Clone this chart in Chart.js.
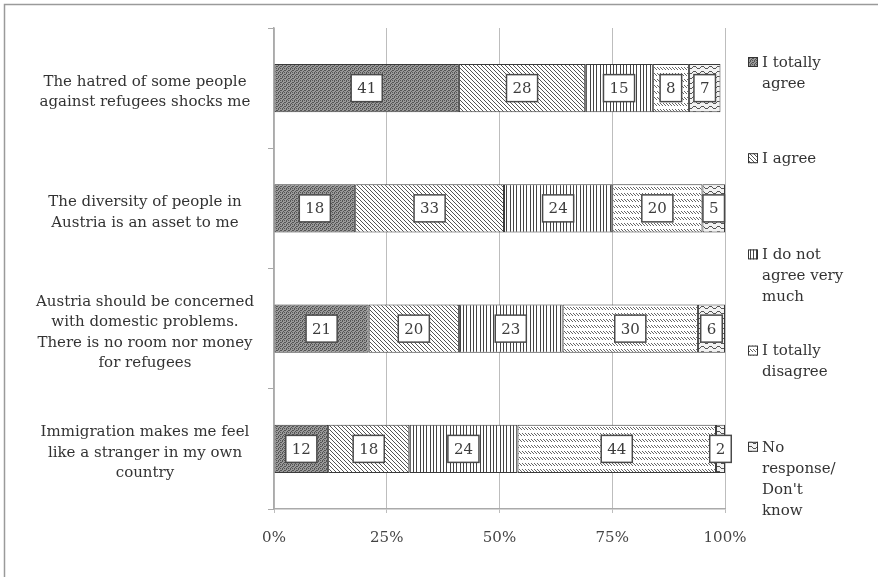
<!DOCTYPE html>
<html>
<head>
<meta charset="utf-8">
<script src="https://cdn.jsdelivr.net/npm/chart.js@4"></script>
<style>
  html, body { margin: 0; padding: 0; background: #fff; }
  #wrap { width: 878px; height: 577px; position: relative; }
</style>
</head>
<body>
<div id="wrap"><canvas id="myChart" width="878" height="577"></canvas></div>
<script>
// statements (y categories), each split in lines like the original
const statements = [
    ["The hatred of some people", "against refugees shocks me"],
    ["The diversity of people in", "Austria is an asset to me"],
    ["Austria should be concerned", "with domestic problems.", "There is no room nor money", "for refugees"],
    ["Immigration makes me feel", "like a stranger in my own", "country"]
];
const seriesNames = ["I totally agree", "I agree", "I do not agree very much", "I totally disagree", "No response/ Don't know"];
const legendLines = [
    ["I totally", "agree"],
    ["I agree"],
    ["I do not", "agree very", "much"],
    ["I totally", "disagree"],
    ["No", "response/", "Don't", "know"]
];
const totallyAgree = [41, 18, 21, 12];
const agree = [28, 33, 20, 18];
const notVeryMuch = [15, 24, 23, 24];
const totallyDisagree = [8, 20, 30, 44];
const noResponse = [7, 5, 6, 2];
const xTicks = [0, 25, 50, 75, 100];

const FONT = "'DejaVu Serif', serif";

function makePattern(draw, w, h) {
    const c = document.createElement('canvas');
    c.width = w; c.height = h;
    const g = c.getContext('2d');
    draw(g, w, h);
    return g.createPattern(c, 'repeat');
}

// dark stipple
const patDots = makePattern((g, w, h) => {
    g.fillStyle = '#9a9a9a'; g.fillRect(0, 0, w, h);
    g.fillStyle = '#555';
    [[0, 0], [2, 1], [1, 2], [3, 3], [2, 0], [0, 2]].forEach(p => g.fillRect(p[0], p[1], 1, 1));
}, 4, 4);
// diagonal lines
const patDiag = makePattern((g, w, h) => {
    g.fillStyle = '#fff'; g.fillRect(0, 0, w, h);
    g.fillStyle = '#555';
    for (let i = 0; i < w; i++) g.fillRect(i, i, 1, 1);
}, 4, 4);
// vertical lines
const patVert = makePattern((g, w, h) => {
    g.fillStyle = '#fff'; g.fillRect(0, 0, w, h);
    g.fillStyle = '#444';
    [0, 3, 6].forEach(x => g.fillRect(x, 0, 1, h));
}, 10, 4);
// rows of short strokes
const patRows = makePattern((g, w, h) => {
    g.fillStyle = '#fff'; g.fillRect(0, 0, w, h);
    g.fillStyle = '#666';
    g.fillRect(0, 1, 1, 1); g.fillRect(1, 2, 1, 1); g.fillRect(2, 3, 1, 1);
}, 3, 6);
// waves
const patWave = makePattern((g, w, h) => {
    g.fillStyle = '#f2f2f2'; g.fillRect(0, 0, w, h);
    g.fillStyle = '#555';
    for (let x = 0; x < w; x++) {
        let y = Math.round(2 + 1.4 * Math.sin(2 * Math.PI * x / w));
        g.fillRect(x, y, 1, 1);
    }
}, 8, 5);

const patterns = [patDots, patDiag, patVert, patRows, patWave];
const seriesData = [totallyAgree, agree, notVeryMuch, totallyDisagree, noResponse];

const datasets = seriesNames.map((name, i) => ({
    label: name,
    data: seriesData[i],
    backgroundColor: patterns[i],
    borderColor: '#3a3a3a',
    borderWidth: 1,
    borderSkipped: false,
    categoryPercentage: 1,
    barPercentage: 0.4,
}));

const frame = {
    id: 'frame',
    beforeDraw(chart) {
        const c = chart.ctx;
        c.save();
        c.fillStyle = '#fff';
        c.fillRect(0, 0, chart.width, chart.height);
        c.strokeStyle = '#9a9a9a';
        c.lineWidth = 1.5;
        c.strokeRect(4.5, 4.5, chart.width + 10, chart.height + 10);
        c.restore();
    }
};

const valueBoxes = {
    id: 'valueBoxes',
    afterDatasetsDraw(chart) {
        const c = chart.ctx;
        c.save();
        c.font = "15px " + FONT;
        c.textAlign = 'center';
        c.textBaseline = 'middle';
        chart.data.datasets.forEach((ds, i) => {
            chart.getDatasetMeta(i).data.forEach((el, j) => {
                const txt = String(ds.data[j]);
                const cx = (el.x + el.base) / 2;
                const w = c.measureText(txt).width + 12;
                const h = 27;
                c.fillStyle = '#fff';
                c.fillRect(cx - w / 2, el.y - h / 2, w, h);
                c.strokeStyle = '#4a4a4a';
                c.lineWidth = 1.5;
                c.strokeRect(cx - w / 2, el.y - h / 2, w, h);
                c.fillStyle = '#3c3c3c';
                c.fillText(txt, cx, el.y + 1);
            });
        });
        c.restore();
    }
};

const sideLegend = {
    id: 'sideLegend',
    afterDraw(chart) {
        const c = chart.ctx;
        const area = chart.chartArea;
        const step = (area.bottom - area.top) / legendLines.length;
        c.save();
        c.font = "15px " + FONT;
        c.textBaseline = 'middle';
        legendLines.forEach((lines, i) => {
            const y0 = area.top + 35 + i * step;
            const bx = area.right + 23;
            c.fillStyle = patterns[i];
            c.fillRect(bx, y0 - 6, 10, 10);
            c.strokeStyle = '#333';
            c.lineWidth = 1;
            c.strokeRect(bx + 0.5, y0 - 5.5, 9, 9);
            c.fillStyle = '#333';
            lines.forEach((t, k) => c.fillText(t, area.right + 37, y0 + k * 21));
        });
        c.restore();
    }
};

const ctx = document.getElementById('myChart');
new Chart(ctx, {
    type: 'bar',
    data: { labels: statements, datasets },
    options: {
        indexAxis: 'y',
        responsive: false,
        animation: false,
        layout: { padding: { left: 0, right: 153, top: 28, bottom: 0 } },
        scales: {
            x: {
                stacked: true,
                min: 0,
                max: 100,
                afterFit: (s) => { s.height = 68; s.paddingLeft = 0; s.paddingRight = 0; },
                afterBuildTicks: (s) => { s.ticks = xTicks.map(v => ({ value: v })); },
                grid: { color: '#bdbdbd', lineWidth: 1, tickLength: 4 },
                border: { color: '#aaa', width: 1.5 },
                ticks: {
                    padding: 16,
                    color: '#444',
                    font: { family: FONT, size: 15 },
                    callback: (v) => v + '%'
                }
            },
            y: {
                stacked: true,
                afterFit: (s) => { s.width = 274; s.paddingTop = 0; s.paddingBottom = 0; },
                grid: { drawOnChartArea: false, color: '#aaa', tickLength: 6, offset: true },
                border: { color: '#aaa', width: 1.5 },
                ticks: {
                    crossAlign: 'center',
                    padding: 14,
                    labelOffset: 4,
                    color: '#333',
                    font: { family: FONT, size: 15, lineHeight: 1.37 }
                }
            }
        },
        plugins: {
            legend: { display: false },
            tooltip: { enabled: false }
        }
    },
    plugins: [frame, valueBoxes, sideLegend]
});
</script>
</body>
</html>
